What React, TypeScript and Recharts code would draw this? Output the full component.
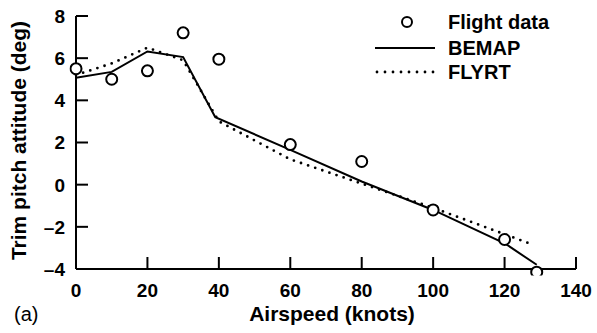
import React from 'react';
import { ComposedChart, Line, XAxis, YAxis, Legend } from 'recharts';

const xTicks = [0, 20, 40, 60, 80, 100, 120, 140];
const yTicks = [-4, -2, 0, 2, 4, 6, 8];

const flightData = [
  { x: 0, y: 5.5 }, { x: 10, y: 5.0 }, { x: 20, y: 5.4 }, { x: 30, y: 7.2 },
  { x: 40, y: 5.95 }, { x: 60, y: 1.9 }, { x: 80, y: 1.1 }, { x: 100, y: -1.2 },
  { x: 120, y: -2.6 }, { x: 129, y: -4.15 },
];

const bemapData = [
  { x: 0, y: 5.07 }, { x: 10, y: 5.35 }, { x: 20, y: 6.32 }, { x: 30, y: 6.05 },
  { x: 39, y: 3.2 }, { x: 60, y: 1.65 }, { x: 80, y: 0.15 }, { x: 100, y: -1.2 },
  { x: 120, y: -2.78 }, { x: 129, y: -3.8 },
];

const flyrtData = [
  { x: 0, y: 5.2 }, { x: 10, y: 5.75 }, { x: 20, y: 6.5 }, { x: 30, y: 5.9 },
  { x: 40, y: 3.0 }, { x: 60, y: 1.2 }, { x: 80, y: 0.05 }, { x: 100, y: -1.1 },
  { x: 120, y: -2.35 }, { x: 128, y: -2.85 },
];

const FONT = '"Liberation Sans", Arial, Helvetica, sans-serif';

const fmt = (v: number) => (v < 0 ? '\u2013' + Math.abs(v) : String(v));

const XTick = (props: any) => {
  const { x, y, payload } = props;
  return (
    <g>
      {payload.value !== 0 && (
        <line x1={x} x2={x} y1={y} y2={y - 12} stroke="#000" strokeWidth={2} />
      )}
      <text x={x} y={y + 28} textAnchor="middle" fontFamily={FONT} fontWeight="bold" fontSize={19} fill="#000">
        {fmt(payload.value)}
      </text>
    </g>
  );
};

const YTick = (props: any) => {
  const { x, y, payload } = props;
  return (
    <g>
      {payload.value !== -4 && (
        <line x1={x} x2={x + 12} y1={y} y2={y} stroke="#000" strokeWidth={2} />
      )}
      <text x={x - 11} y={y} dy="0.36em" textAnchor="end" fontFamily={FONT} fontWeight="bold" fontSize={19} fill="#000">
        {fmt(payload.value)}
      </text>
    </g>
  );
};

const XLabel = (props: any) => {
  const { viewBox } = props;
  const cx = viewBox.x + viewBox.width / 2 + 6;
  const by = viewBox.y;
  return (
    <g>
      <text x={cx} y={by + 52} textAnchor="middle" fontFamily={FONT} fontWeight="bold" fontSize={21} fill="#000">
        Airspeed (knots)
      </text>
      <text x={14} y={by + 52} textAnchor="start" fontFamily={FONT} fontSize={20} fill="#000">
        (a)
      </text>
    </g>
  );
};

const YLabel = (props: any) => {
  const { viewBox } = props;
  const cy = viewBox.y + viewBox.height / 2 - 2;
  const cx = 19;
  return (
    <text x={cx} y={cy} dy="0.35em" textAnchor="middle" transform={`rotate(-90, ${cx}, ${cy})`}
      fontFamily={FONT} fontWeight="bold" fontSize={21} fill="#000">
      Trim pitch attitude (deg)
    </text>
  );
};

const LegendContent = () => (
  <svg width={200} height={90}>
    <circle cx={32} cy={22} r={5} fill="#fff" stroke="#000" strokeWidth={2} />
    <text x={73} y={22} dy="0.36em" fontFamily={FONT} fontWeight="bold" fontSize={20} fill="#000">Flight data</text>
    <line x1={0} x2={60} y1={48} y2={48} stroke="#000" strokeWidth={2} />
    <text x={73} y={48} dy="0.36em" fontFamily={FONT} fontWeight="bold" fontSize={20} fill="#000">BEMAP</text>
    <line x1={2} x2={60} y1={72} y2={72} stroke="#000" strokeWidth={2.8} strokeDasharray="0 8" strokeLinecap="round" />
    <text x={73} y={72} dy="0.36em" fontFamily={FONT} fontWeight="bold" fontSize={20} fill="#000">FLYRT</text>
  </svg>
);

export default function App() {
  return (
    <div style={{ position: 'absolute', left: 0, top: 0, width: 597, height: 333, background: '#fff' }}>
      <ComposedChart width={597} height={333} margin={{ top: 16, right: 21, bottom: 24, left: 0 }}>
        <XAxis
          dataKey="x"
          type="number"
          domain={[0, 140]}
          ticks={xTicks}
          interval={0}
          tickSize={0}
          tickMargin={0}
          height={40}
          axisLine={{ stroke: '#000', strokeWidth: 2 }}
          tickLine={false}
          tick={<XTick />}
          label={<XLabel />}
        />
        <YAxis
          type="number"
          domain={[-4, 8]}
          allowDataOverflow
          ticks={yTicks}
          interval={0}
          tickSize={0}
          tickMargin={0}
          width={76}
          axisLine={{ stroke: '#000', strokeWidth: 2 }}
          tickLine={false}
          tick={<YTick />}
          label={<YLabel />}
        />
        <Legend
          layout="vertical"
          align="center"
          verticalAlign="middle"
          content={<LegendContent />}
          wrapperStyle={{ position: 'absolute', left: 375, top: 0, width: 200, height: 90 }}
        />
        <Line data={flyrtData} dataKey="y" type="linear" stroke="#000" strokeWidth={2.8}
          strokeDasharray="0 7.5" strokeLinecap="round" dot={false} activeDot={false} isAnimationActive={false} />
        <Line data={bemapData} dataKey="y" type="linear" stroke="#000" strokeWidth={2}
          dot={false} activeDot={false} isAnimationActive={false} />
        <Line data={flightData} dataKey="y" type="linear" stroke="none" strokeWidth={0}
          dot={{ r: 5.5, fill: '#fff', stroke: '#000', strokeWidth: 2, clipDot: false }}
          activeDot={false} isAnimationActive={false} />
      </ComposedChart>
    </div>
  );
}
